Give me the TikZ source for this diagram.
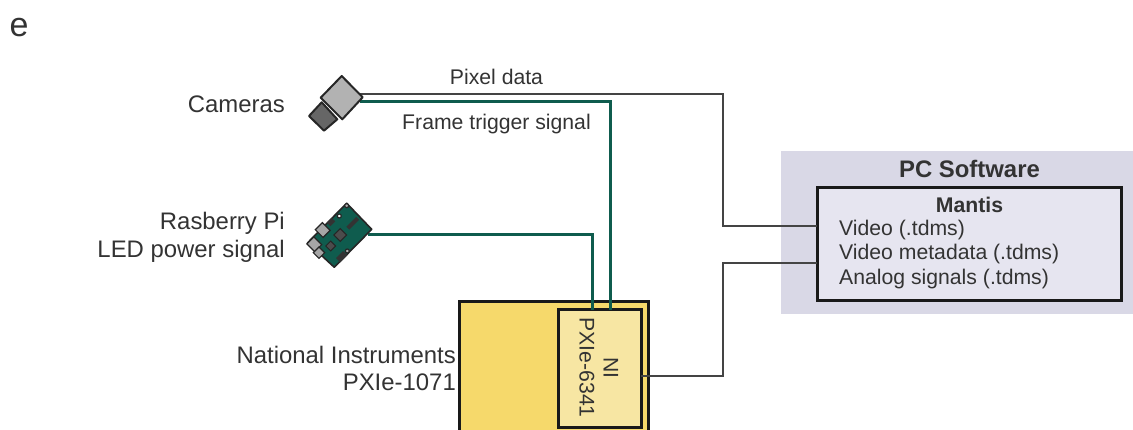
\documentclass[tikz,border=0pt]{standalone}
\usepackage{fontspec}
\setmainfont{Liberation Sans}
\colorlet{txt}{black!80}
\definecolor{wiregreen}{HTML}{0F5C4E}
\definecolor{wiregray}{HTML}{444444}
\definecolor{yellowbox}{HTML}{F6D96B}
\definecolor{yellowcard}{HTML}{F7E6A3}
\definecolor{pcbg}{HTML}{D9D8E6}
\definecolor{mantisbg}{HTML}{E6E5F0}
\tikzset{
  lab/.style={text=txt,inner sep=0pt,font=\fontsize{21.2}{25}\selectfont},
  labbig/.style={text=txt,inner sep=0pt,font=\fontsize{23.9}{28}\selectfont},
  blackbox/.style={draw=black!90,line width=3pt,inner sep=0pt,rectangle},
  graywire/.style={draw=wiregray,line width=1.4pt},
  greenwire/.style={draw=wiregreen,line width=3pt},
  outline/.style={draw=black!85,line width=2pt,line join=round},
  pcb/.style={fill=black!80},
}
\newcommand{\rotbox}[5]{\path[#5,shift={(#1,#2)},rotate=45] (-#3,-#4) rectangle (#3,#4);}
\begin{document}
\begin{tikzpicture}[x=1pt,y=-1pt]
\useasboundingbox (0,0) rectangle (1133,430);
% label
\node[labbig,font=\fontsize{34}{40}\selectfont,anchor=center] (e) at (19,28) {e};
% PC software
\node[rectangle,fill=pcbg,minimum width=352pt,minimum height=163pt,inner sep=0pt] (pc) at (957,232.5) {};
\node[blackbox,fill=mantisbg,minimum width=304pt,minimum height=113pt] (mantis) at (969,244.5) {};
\node[labbig,font=\fontsize{23.9}{28}\selectfont\bfseries] (pctitle) at (969.5,169) {PC Software};
\node[lab,font=\fontsize{21.2}{25}\selectfont\bfseries] (mantistitle) at (969.5,205) {Mantis};
\node[lab,anchor=west] (v1) at (839,230) {Video (.tdms)};
\node[lab,anchor=west] (v2) at (839,254.5) {Video metadata (.tdms)};
\node[lab,anchor=west] (v3) at (839,279) {Analog signals (.tdms)};
% NI chassis
\begin{scope}
\clip (0,0) rectangle (1133,430);
\node[blackbox,fill=yellowbox,minimum width=189pt,minimum height=160pt] (chassis) at (553.5,382) {};
\end{scope}
\node[blackbox,fill=yellowcard,minimum width=83pt,minimum height=117pt] (card) at (599.5,368.5) {};
\node[lab,rotate=-90] (ni) at (611,368) {NI};
\node[lab,rotate=-90] (pxi) at (587,367.5) {PXIe-6341};
\node[labbig,anchor=east] (nat) at (456,355) {National Instruments};
\node[labbig,anchor=east] (pxie) at (456,382) {PXIe-1071};
% other labels
\node[labbig,anchor=east] (camlab) at (285,104) {Cameras};
\node[labbig,anchor=east] (rp1) at (285,223) {Rasberry Pi};
\node[labbig,anchor=east] (rp2) at (285,251) {LED power signal};
\node[lab] (pixlab) at (496.5,77) {Pixel data};
\node[lab] (framelab) at (496.5,124) {Frame trigger signal};
% connector ends
\coordinate (camA) at (360,94);
\coordinate (camB) at (360,102);
\coordinate (piout) at (368,235);
\coordinate (cardA) at (592,310);
\coordinate (cardB) at (610,310);
\coordinate (m1) at (817,226);
\coordinate (m2) at (817,263);
\coordinate (cardE) at (641,376);
% connectors
\draw[graywire] (camA) -- (723,94) -- (723,226) -- (m1);
\draw[graywire] (cardE) -- (723,376) -- (723,263) -- (m2);
\draw[greenwire] (camB) -- (610,102) -- (cardB);
\draw[greenwire] (piout) -- (592,235) -- (cardA);
% camera
\draw[outline,fill=black!60] (321.7,102.3) -- (337.3,119.3) -- (324,130.7) -- (309,116) -- cycle;
\draw[outline,fill=black!30] (341.7,76) -- (362.7,97.3) -- (342.3,119.3) -- (320.7,97.7) -- cycle;
% raspberry pi
\draw[draw=black!85,line width=1.6pt,fill=wiregreen,line join=round] (346.7,203.3) -- (371.7,229.3) -- (334.3,267.3) -- (307.7,242.7) -- cycle;
\rotbox{322.7}{230}{5}{5.5}{fill=black!35,draw=black!85,line width=1.2pt}
\rotbox{314.3}{244.3}{5}{5.5}{fill=black!35,draw=black!85,line width=1.2pt}
\rotbox{319}{252.7}{4}{4}{fill=black!35,draw=black!85,line width=1.2pt}
\rotbox{340.3}{235}{4.5}{4.5}{fill=black!70,draw=black!85,line width=1pt}
\rotbox{330.7}{246}{3.5}{3.5}{fill=black!70,draw=black!85,line width=1pt}
\rotbox{352.7}{223.3}{7}{2}{pcb}
\rotbox{341.7}{256.7}{5}{3}{pcb}
\rotbox{331}{222}{3.5}{2.5}{pcb}
\filldraw[fill=white,draw=black!85,line width=1.2pt] (339.3,216) circle (2pt);
\filldraw[fill=black!30,draw=black!85,line width=1.2pt] (346.7,205.7) circle (2pt);
\filldraw[fill=black!30,draw=black!85,line width=1.2pt] (347.3,251) circle (2pt);
\end{tikzpicture}
\end{document}
